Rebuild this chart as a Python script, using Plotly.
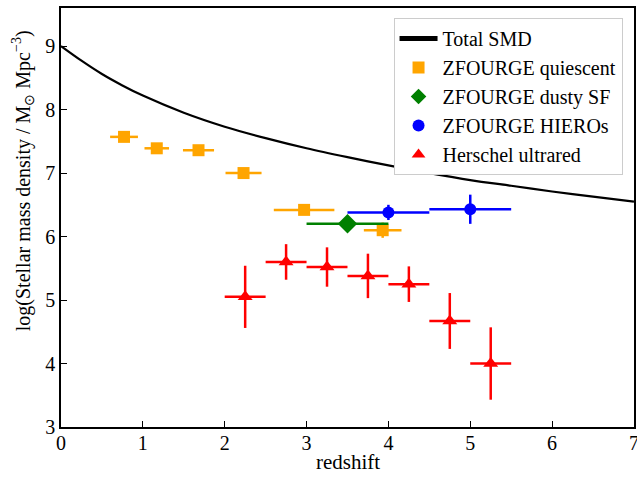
import plotly.graph_objects as go

# Total SMD curve
smd_z = [0, 0.25, 0.5, 0.75, 1.0, 1.5, 2.0, 2.5, 3.0, 3.5, 4.0, 4.5, 5.0, 5.5, 6.0, 6.5, 7.0]
smd_val = [9.0, 8.77, 8.56, 8.38, 8.22, 7.95, 7.73, 7.55, 7.39, 7.25, 7.12, 7.0, 6.89, 6.8, 6.71, 6.63, 6.55]

# ZFOURGE quiescent
q_z = [0.77, 1.17, 1.68, 2.23, 2.97, 3.93]
q_val = [7.57, 7.39, 7.36, 7.0, 6.42, 6.1]
q_xerr = [0.17, 0.15, 0.19, 0.22, 0.37, 0.23]
q_yerr = [0.05, 0.05, 0.05, 0.05, 0.05, 0.12]

# ZFOURGE dusty SF
d_z = [3.5]
d_val = [6.2]
d_xerr = [0.5]
d_yerr = [0.05]

# ZFOURGE HIEROs
h_z = [4.0, 5.0]
h_val = [6.38, 6.43]
h_xerr = [0.5, 0.5]
h_yerr = [0.12, 0.23]

# Herschel ultrared
u_z = [2.25, 2.75, 3.25, 3.75, 4.25, 4.75, 5.25]
u_val = [5.05, 5.6, 5.52, 5.38, 5.25, 4.67, 4.0]
u_xerr = [0.25, 0.25, 0.25, 0.25, 0.25, 0.25, 0.25]
u_yerr = [0.49, 0.28, 0.31, 0.35, 0.28, 0.44, 0.57]

fig = go.Figure()
fig.add_trace(go.Scatter(x=smd_z, y=smd_val, mode="lines", name="Total SMD",
                         line=dict(color="black", width=2.2, shape="spline", smoothing=0.8)))

def add_pts(x, y, xe, ye, name, color, symbol, size):
    fig.add_trace(go.Scatter(
        x=x, y=y, mode="markers", name=name,
        marker=dict(color=color, symbol=symbol, size=size),
        error_x=dict(type="data", array=xe, color=color, thickness=2.5, width=0),
        error_y=dict(type="data", array=ye, color=color, thickness=2.5, width=0),
    ))

add_pts(q_z, q_val, q_xerr, q_yerr, "ZFOURGE quiescent", "orange", "square", 12)
add_pts(d_z, d_val, d_xerr, d_yerr, "ZFOURGE dusty SF", "green", "diamond", 15)
add_pts(h_z, h_val, h_xerr, h_yerr, "ZFOURGE HIEROs", "blue", "circle", 12)
add_pts(u_z, u_val, u_xerr, u_yerr, "Herschel ultrared", "red", "triangle-up", 13)

font = "Liberation Serif"
fig.update_layout(
    width=637, height=478,
    margin=dict(l=61, r=3, t=8, b=51),
    plot_bgcolor="white", paper_bgcolor="white",
    font=dict(family=font, size=20, color="black"),
    legend=dict(x=0.98, y=0.976, xanchor="right", yanchor="top",
                bgcolor="white", bordercolor="#cccccc", borderwidth=1,
                tracegroupgap=0, itemsizing="constant", itemwidth=38,
                font=dict(size=20, family=font)),
    annotations=[
        dict(text="log(Stellar mass density / M<sub>⊙</sub> Mpc<sup>−3</sup>)",
             xref="paper", yref="paper", x=-0.066, y=0.587,
             xanchor="center", yanchor="middle", textangle=-90, showarrow=False,
             font=dict(size=20, family=font, color="black")),
        dict(text="redshift", xref="paper", yref="paper", x=0.5, y=-0.0835,
             xanchor="center", yanchor="middle", showarrow=False,
             font=dict(size=21, family=font, color="black")),
    ],
)
fig.update_xaxes(range=[0, 7.0005], tickvals=[0, 1, 2, 3, 4, 5, 6, 7], automargin=False,
                 ticks="inside", ticklen=6, tickwidth=1.2, tickcolor="black",
                 ticklabelstandoff=-3, ticklabeloverflow="allow",
                 showgrid=False, zeroline=False,
                 showline=True, linecolor="black", linewidth=1.5, mirror=True)
fig.update_yaxes(range=[3, 9.6], tickvals=[3, 4, 5, 6, 7, 8, 9], automargin=False,
                 ticks="inside", ticklen=6, tickwidth=1.2, tickcolor="black",
                 showgrid=False, zeroline=False,
                 showline=True, linecolor="black", linewidth=1.5, mirror=True)
fig.write_html("out.html", config={"displayModeBar": False},
               post_script="document.body.style.margin='0px';")
